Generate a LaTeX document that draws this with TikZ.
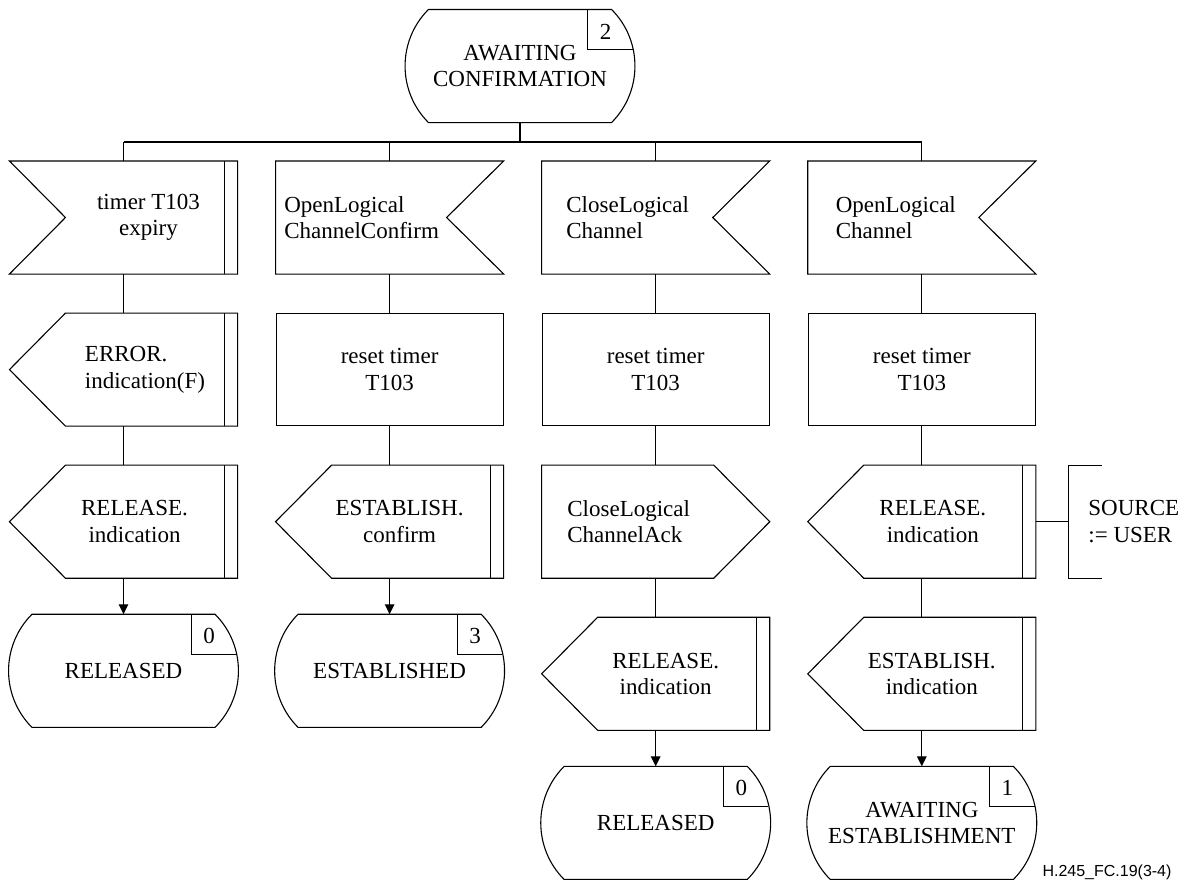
\documentclass[tikz,border=0pt]{standalone}
\usepackage{fontspec}
\setmainfont{Liberation Serif}
\newfontfamily\figidfont{Liberation Sans}
\usetikzlibrary{arrows.meta, positioning}

\begin{document}
\begin{tikzpicture}[
      x = 0.5pt, y = -0.5pt,
      >={Triangle[width = 4.8pt, length = 5pt]},
      line width = 0.55pt,
      font = \fontsize{11.5pt}{13.3pt}\selectfont,
      sym/.style={
        rectangle,
        minimum width = 113.5pt,
        minimum height = 56pt,
        inner sep = 0pt,
        align = center,
      },
      txt/.style={align = center, inner sep = 0pt},
      txtl/.style={align = left, inner sep = 0pt},
      num/.style={inner sep = 0pt},
      task/.style={sym, draw},
      state/.style={
        sym,
        minimum width = 113pt,
        append after command={\pgfextra{
          \draw ([xshift=11pt]\tikzlastnode.north west)
            -- ([xshift=-11pt]\tikzlastnode.north east)
            to[bend left=45] ([xshift=-11pt]\tikzlastnode.south east)
            -- ([xshift=11pt]\tikzlastnode.south west)
            to[bend left=45] ([xshift=11pt]\tikzlastnode.north west);
          \draw ([xshift=-23pt]\tikzlastnode.north east)
            |- ([xshift=-0.4pt, yshift=-20pt]\tikzlastnode.north east);
        }},
      },
      input left/.style={sym, append after command={\pgfextra{
          \draw (\tikzlastnode.north west) -- (\tikzlastnode.north east)
            -- (\tikzlastnode.south east) -- (\tikzlastnode.south west)
            -- ([xshift=28pt]\tikzlastnode.west) -- cycle;
          \draw ([xshift=-6.5pt]\tikzlastnode.north east)
            -- ([xshift=-6.5pt]\tikzlastnode.south east);
        }}},
      input right/.style={sym, append after command={\pgfextra{
          \draw (\tikzlastnode.north west) -- (\tikzlastnode.north east)
            -- ([xshift=-28.5pt]\tikzlastnode.east)
            -- (\tikzlastnode.south east) -- (\tikzlastnode.south west)
            -- cycle;
        }}},
      output left/.style={sym, append after command={\pgfextra{
          \draw ([xshift=28pt]\tikzlastnode.north west)
            -- (\tikzlastnode.north east) -- (\tikzlastnode.south east)
            -- ([xshift=28pt]\tikzlastnode.south west)
            -- (\tikzlastnode.west) -- cycle;
          \draw ([xshift=-6.5pt]\tikzlastnode.north east)
            -- ([xshift=-6.5pt]\tikzlastnode.south east);
        }}},
      output right/.style={sym, append after command={\pgfextra{
          \draw (\tikzlastnode.north west)
            -- ([xshift=-28pt]\tikzlastnode.north east)
            -- (\tikzlastnode.east)
            -- ([xshift=-28pt]\tikzlastnode.south east)
            -- (\tikzlastnode.south west) -- cycle;
        }}},
      comment/.style={
        rectangle,
        minimum height = 56pt,
        inner xsep = 9.5pt,
        inner ysep = 0pt,
        align = left,
        append after command={\pgfextra{
          \draw ([xshift=16.5pt]\tikzlastnode.north west)
            -- (\tikzlastnode.north west) -- (\tikzlastnode.south west)
            -- ([xshift=16.5pt]\tikzlastnode.south west);
        }}},
    ]
    \useasboundingbox (0, 0) rectangle (1187, 879);

    \node[state] (conf) at (520, 66) {AWAITING\\CONFIRMATION};
    \node[num] (conf-n) at ([xshift=-14pt, yshift=-11pt]conf.north east) {2};
    \coordinate (bus) at (520, 142);

    % timer expiry
    \node[input left] (tmr) at (123.5, 217.5) {};
    \node[txt, xshift=12.5pt] (tmr-t) at (tmr) {timer T103\\expiry};
    \node[output left, below = 19.5pt of tmr] (err) {};
    \node[txtl, xshift=10.75pt] (err-t) at (err) {ERROR.\\indication(F)};
    \node[output left, below = 19.5pt of err] (rel1) {};
    \node[txt, xshift=5.5pt] (rel1-t) at (rel1) {RELEASE.\\indication};
    \node[state, below = 18pt of rel1] (released1) {RELEASED};
    \node[num] (released1-n) at ([xshift=-14pt, yshift=-11pt]released1.north east) {0};

    % confirm
    \node[input right, right = 19pt of tmr] (olcc) {};
    \node[txtl, xshift=-14pt] (olcc-t) at (olcc) {OpenLogical\\ChannelConfirm};
    \node[task, below = 19.5pt of olcc] (rst2) {reset timer\\T103};
    \node[output left, below = 19.5pt of rst2] (estc) {};
    \node[txt, xshift=5pt] (estc-t) at (estc) {ESTABLISH.\\confirm};
    \node[state, below = 18pt of estc] (established) {ESTABLISHED};
    \node[num] (established-n) at ([xshift=-14pt, yshift=-11pt]established.north east) {3};

    % close
    \node[input right, right = 19pt of olcc] (clc) {};
    \node[txtl, xshift=-14pt] (clc-t) at (clc) {CloseLogical\\Channel};
    \node[task, below = 19.5pt of clc] (rst3) {reset timer\\T103};
    \node[output right, below = 19.5pt of rst3] (ack) {};
    \node[txtl, xshift=-13.5pt] (ack-t) at (ack) {CloseLogical\\ChannelAck};
    \node[output left, below = 19.5pt of ack] (rel3) {};
    \node[txt, xshift=5pt] (rel3-t) at (rel3) {RELEASE.\\indication};
    \node[state, below = 18pt of rel3] (released3) {RELEASED};
    \node[num] (released3-n) at ([xshift=-14pt, yshift=-11pt]released3.north east) {0};

    % open
    \node[input right, right = 19pt of clc] (olc) {};
    \node[txtl, xshift=-13pt] (olc-t) at (olc) {OpenLogical\\Channel};
    \node[task, below = 19.5pt of olc] (rst4) {reset timer\\T103};
    \node[output left, below = 19.5pt of rst4] (rel4) {};
    \node[txt, xshift=5.5pt] (rel4-t) at (rel4) {RELEASE.\\indication};
    \node[comment, right = 16.5pt of rel4] (src) {SOURCE\\:= USER};
    \node[output left, below = 19.5pt of rel4] (esti) {};
    \node[txt, xshift=5pt] (esti-t) at (esti) {ESTABLISH.\\indication};
    \node[state, below = 18pt of esti] (awaitest) {AWAITING\\ESTABLISHMENT};
    \node[num] (awaitest-n) at ([xshift=-14pt, yshift=-11pt]awaitest.north east) {1};

    \node[anchor = base east, inner sep = 0pt,
      font = \figidfont\fontsize{8pt}{9.6pt}\selectfont] (figid)
      at (1172, 876) {H.245\_FC.19(3-4)};

    \draw (conf) -- (bus);
    \draw (bus -| tmr.north) -- (bus -| olc.north);
    \foreach \n in {tmr, olcc, clc, olc}
      \draw (bus -| \n.north) -- (\n);
    \draw (tmr) -- (err);
    \draw (err) -- (rel1);
    \draw[->] (rel1) -- (released1);
    \draw (olcc) -- (rst2);
    \draw (rst2) -- (estc);
    \draw[->] (estc) -- (established);
    \draw (clc) -- (rst3);
    \draw (rst3) -- (ack);
    \draw (ack) -- (rel3);
    \draw[->] (rel3) -- (released3);
    \draw (olc) -- (rst4);
    \draw (rst4) -- (rel4);
    \draw (rel4) -- (src);
    \draw (rel4) -- (esti);
    \draw[->] (esti) -- (awaitest);
  \end{tikzpicture}
\end{document}
